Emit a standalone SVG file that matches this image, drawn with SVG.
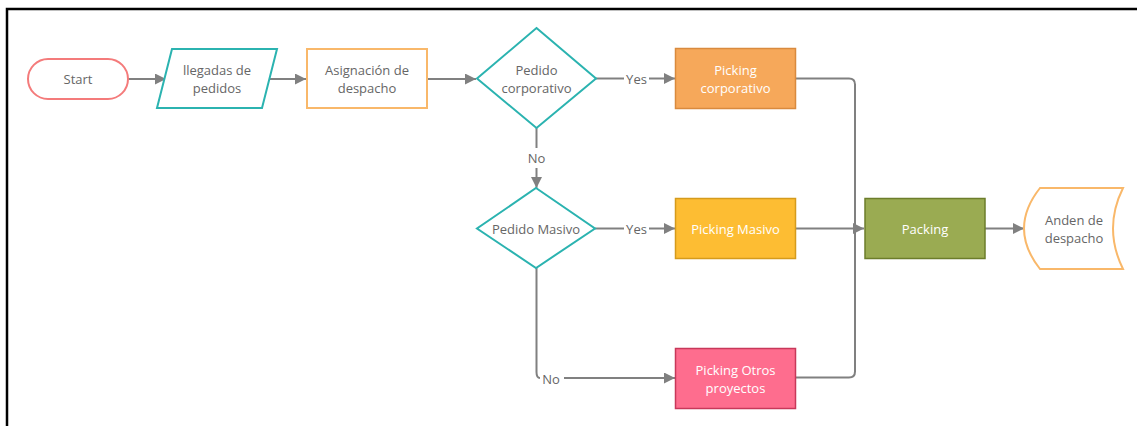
<svg xmlns="http://www.w3.org/2000/svg" width="1137" height="426" viewBox="0 0 1137 426">
<style>
.t{font-family:"Open Sans","Noto Sans",sans-serif;font-size:13px;fill:#666;text-anchor:middle;dominant-baseline:central}
.w{fill:#fff}
.c{fill:none;stroke:#808080;stroke-width:2}
.lbl{font-family:"Open Sans","Noto Sans",sans-serif;font-size:13px;fill:#666;text-anchor:middle;dominant-baseline:central}
</style>
<defs>
<marker id="ah" viewBox="0 0 10 10" refX="10" refY="5" markerWidth="11" markerHeight="11" markerUnits="userSpaceOnUse" orient="auto">
<path d="M0,0 L10,5 L0,10 z" fill="#808080"/>
</marker>
</defs>
<rect width="1137" height="426" fill="#fff"/>
<path d="M7,426 V9 H1137" fill="none" stroke="#000" stroke-width="2.5"/>
<g id="connectors">
<path class="c" d="M128,79 H166" marker-end="url(#ah)"/>
<path class="c" d="M267,79 H306" marker-end="url(#ah)"/>
<path class="c" d="M427,79 H476" marker-end="url(#ah)"/>
<path class="c" d="M596,78.5 H624"/>
<path class="c" d="M649,78.5 H675" marker-end="url(#ah)"/>
<text class="lbl" x="636.5" y="78.5">Yes</text>
<path class="c" d="M536.5,128 V148"/>
<path class="c" d="M536.5,168 V188" marker-end="url(#ah)"/>
<text class="lbl" x="536.5" y="158">No</text>
<path class="c" d="M595,228.5 H624"/>
<path class="c" d="M649,228.5 H675" marker-end="url(#ah)"/>
<text class="lbl" x="636.5" y="228.5">Yes</text>
<path class="c" d="M536.5,268 V372 Q536.5,378 540,378"/>
<path class="c" d="M564,378 H675" marker-end="url(#ah)"/>
<text class="lbl" x="551" y="378.5">No</text>
<path class="c" d="M796,78.5 H849 Q855,78.5 855,84.5 V371.5 Q855,377.5 849,377.5 H796"/>
<path class="c" d="M795,228.5 H864" marker-end="url(#ah)"/>
<path class="c" d="M985,228.5 H1024" marker-end="url(#ah)"/>
</g>
<g id="start">
<rect x="28" y="59" width="100" height="40" rx="20" fill="#fff" stroke="#f47b7b" stroke-width="2"/>
<text class="t" x="78" y="79">Start</text>
</g>
<g id="llegadas">
<path d="M172,49 H277 L262,108 H157 Z" fill="#fff" stroke="#2bb3b0" stroke-width="2"/>
<text class="t" x="217" y="70">llegadas de</text>
<text class="t" x="217" y="88">pedidos</text>
</g>
<g id="asignacion">
<rect x="307" y="49" width="120" height="59" fill="#fff" stroke="#f9b86a" stroke-width="2"/>
<text class="t" x="367" y="70">Asignación de</text>
<text class="t" x="367" y="88">despacho</text>
</g>
<g id="pedido-corporativo">
<path d="M536.5,28 L596,78.5 L536.5,128 L477,78.5 Z" fill="#fff" stroke="#2bb3b0" stroke-width="2"/>
<text class="t" x="536.5" y="70">Pedido</text>
<text class="t" x="536.5" y="88">corporativo</text>
</g>
<g id="picking-corporativo">
<rect x="675.5" y="48.5" width="120" height="60" fill="#f6a85a" stroke="#d98a3e" stroke-width="1.5"/>
<text class="t w" x="735.5" y="70">Picking</text>
<text class="t w" x="735.5" y="88">corporativo</text>
</g>
<g id="pedido-masivo">
<path d="M536,188 L595,228.5 L536,268 L477,228.5 Z" fill="#fff" stroke="#2bb3b0" stroke-width="2"/>
<text class="t" x="536" y="228.5">Pedido Masivo</text>
</g>
<g id="picking-masivo">
<rect x="675.5" y="198.5" width="120" height="60" fill="#fdbd33" stroke="#d59b1c" stroke-width="1.5"/>
<text class="t w" x="735.5" y="228.5">Picking Masivo</text>
</g>
<g id="picking-otros">
<rect x="675.5" y="348.5" width="120" height="60" fill="#fe6d8e" stroke="#c8385a" stroke-width="1.5"/>
<text class="t w" x="735.5" y="370">Picking Otros</text>
<text class="t w" x="735.5" y="388">proyectos</text>
</g>
<g id="packing">
<rect x="865" y="198.5" width="120" height="60" fill="#9aab52" stroke="#6c7d2b" stroke-width="1.5"/>
<text class="t w" x="925" y="228.5">Packing</text>
</g>
<g id="anden">
<path d="M1040,188 H1123 Q1103,228.5 1123,269 H1040 Q1008,228.5 1040,188 Z" fill="#fff" stroke="#f9b86a" stroke-width="2"/>
<text class="t" x="1074" y="220">Anden de</text>
<text class="t" x="1074" y="238">despacho</text>
</g>
</svg>
